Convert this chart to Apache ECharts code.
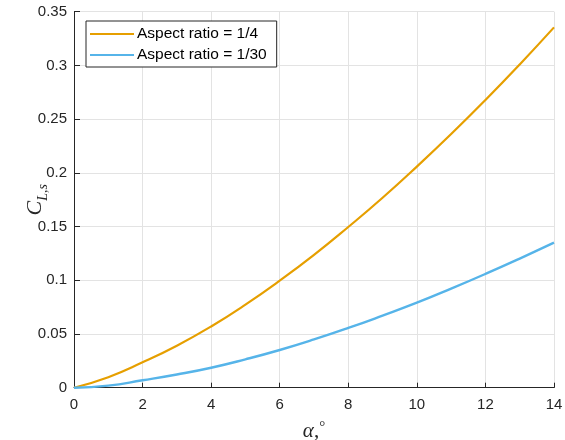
<!DOCTYPE html>
<html>
<head>
<meta charset="utf-8">
<script src="https://cdn.jsdelivr.net/npm/echarts@6/dist/echarts.min.js"></script>
<style>
  html, body { margin: 0; padding: 0; background: #ffffff; }
  #chart { width: 565px; height: 440px; }
</style>
</head>
<body>
<div id="chart"></div>
<script>
// Angle of attack in degrees
const alphaDeg = [0, 1, 2, 3, 4, 5, 6, 7, 8, 9, 10, 11, 12, 13, 14];

// Lift coefficient for each aspect ratio
const clAR4 = [0, 0.0098, 0.0236, 0.0391, 0.0570, 0.0773, 0.0996, 0.1236, 0.1496,
               0.1768, 0.2058, 0.2361, 0.2678, 0.3009, 0.3354];
const clAR30 = [0, 0.0019, 0.0069, 0.0123, 0.0186, 0.0264, 0.0351, 0.0449, 0.0556,
                0.0671, 0.0791, 0.0922, 0.1059, 0.1202, 0.1350];

const seriesNames = ['Aspect ratio = 1/4', 'Aspect ratio = 1/30'];

// Tick labels
const xTickLabels = ['0', '2', '4', '6', '8', '10', '12', '14'];
const yTickLabels = ['0', '0.05', '0.1', '0.15', '0.2', '0.25', '0.3', '0.35'];

const axisColor = '#262626';
const gridColor = '#e3e3e3';
const labelFont = 'Liberation Sans, Arial, sans-serif';
const mathFont = 'Liberation Serif, Times New Roman, serif';

const pairs = (xs, ys) => xs.map((x, i) => [x, ys[i]]);

const chart = echarts.init(document.getElementById('chart'), null, { renderer: 'canvas' });

chart.setOption({
  animation: false,
  backgroundColor: '#ffffff',
  grid: { left: 74, right: 11, top: 11.7, bottom: 52.3, containLabel: false, outerBoundsMode: 'none' },
  legend: {
    orient: 'vertical',
    left: 86,
    top: 21,
    padding: [5, 10, 4, 4],
    itemGap: 5,
    itemWidth: 44,
    itemHeight: 2,
    icon: 'rect',
    borderColor: axisColor,
    borderWidth: 1,
    backgroundColor: '#ffffff',
    textStyle: { fontFamily: labelFont, fontSize: 15.5, color: '#000000', padding: [0, 0, 0, -2] },
    data: seriesNames
  },
  xAxis: {
    type: 'value',
    min: 0,
    max: 14,
    interval: 2,
    name: '{a|α}{b|,}{c|°}',
    nameLocation: 'middle',
    nameMoveOverlap: false,
    nameGap: 32,
    nameTextStyle: {
      rich: {
        a: { fontFamily: mathFont, fontStyle: 'italic', fontSize: 21, color: axisColor },
        b: { fontFamily: mathFont, fontSize: 21, color: axisColor },
        c: { fontFamily: mathFont, fontSize: 15, color: axisColor, verticalAlign: 'top', lineHeight: 24 }
      }
    },
    axisLine: { show: true, onZero: false, lineStyle: { color: axisColor, width: 1 } },
    axisTick: { show: true, inside: true, length: 5, lineStyle: { color: axisColor } },
    axisLabel: {
      margin: 10,
      fontFamily: labelFont,
      fontSize: 15,
      color: axisColor,
      formatter: (v) => xTickLabels[Math.round(v / 2)]
    },
    splitLine: { show: true, lineStyle: { color: gridColor, width: 1 } }
  },
  yAxis: {
    type: 'value',
    min: 0,
    max: 0.35,
    interval: 0.05,
    name: '{c|C}{s|L,s}',
    nameLocation: 'middle',
    nameMoveOverlap: false,
    nameRotate: 90,
    nameGap: 24,
    nameTextStyle: {
      rich: {
        c: { fontFamily: mathFont, fontStyle: 'italic', fontSize: 22, color: axisColor, lineHeight: 30 },
        s: { fontFamily: mathFont, fontStyle: 'italic', fontSize: 14, color: axisColor, verticalAlign: 'bottom', lineHeight: 30 }
      }
    },
    axisLine: { show: true, onZero: false, lineStyle: { color: axisColor, width: 1 } },
    axisTick: { show: true, inside: true, length: 6, lineStyle: { color: axisColor } },
    axisLabel: {
      margin: 7,
      fontFamily: labelFont,
      fontSize: 15,
      color: axisColor,
      formatter: (v) => yTickLabels[Math.round(v / 0.05)]
    },
    splitLine: { show: true, lineStyle: { color: gridColor, width: 1 } }
  },
  series: [
    {
      name: seriesNames[0],
      type: 'line',
      data: pairs(alphaDeg, clAR4),
      smooth: true,
      showSymbol: false,
      lineStyle: { color: '#E69F00', width: 2.2 },
      itemStyle: { color: '#E69F00' }
    },
    {
      name: seriesNames[1],
      type: 'line',
      data: pairs(alphaDeg, clAR30),
      smooth: true,
      showSymbol: false,
      lineStyle: { color: '#56B4E9', width: 2.4 },
      itemStyle: { color: '#56B4E9' }
    }
  ]
});
</script>
</body>
</html>
